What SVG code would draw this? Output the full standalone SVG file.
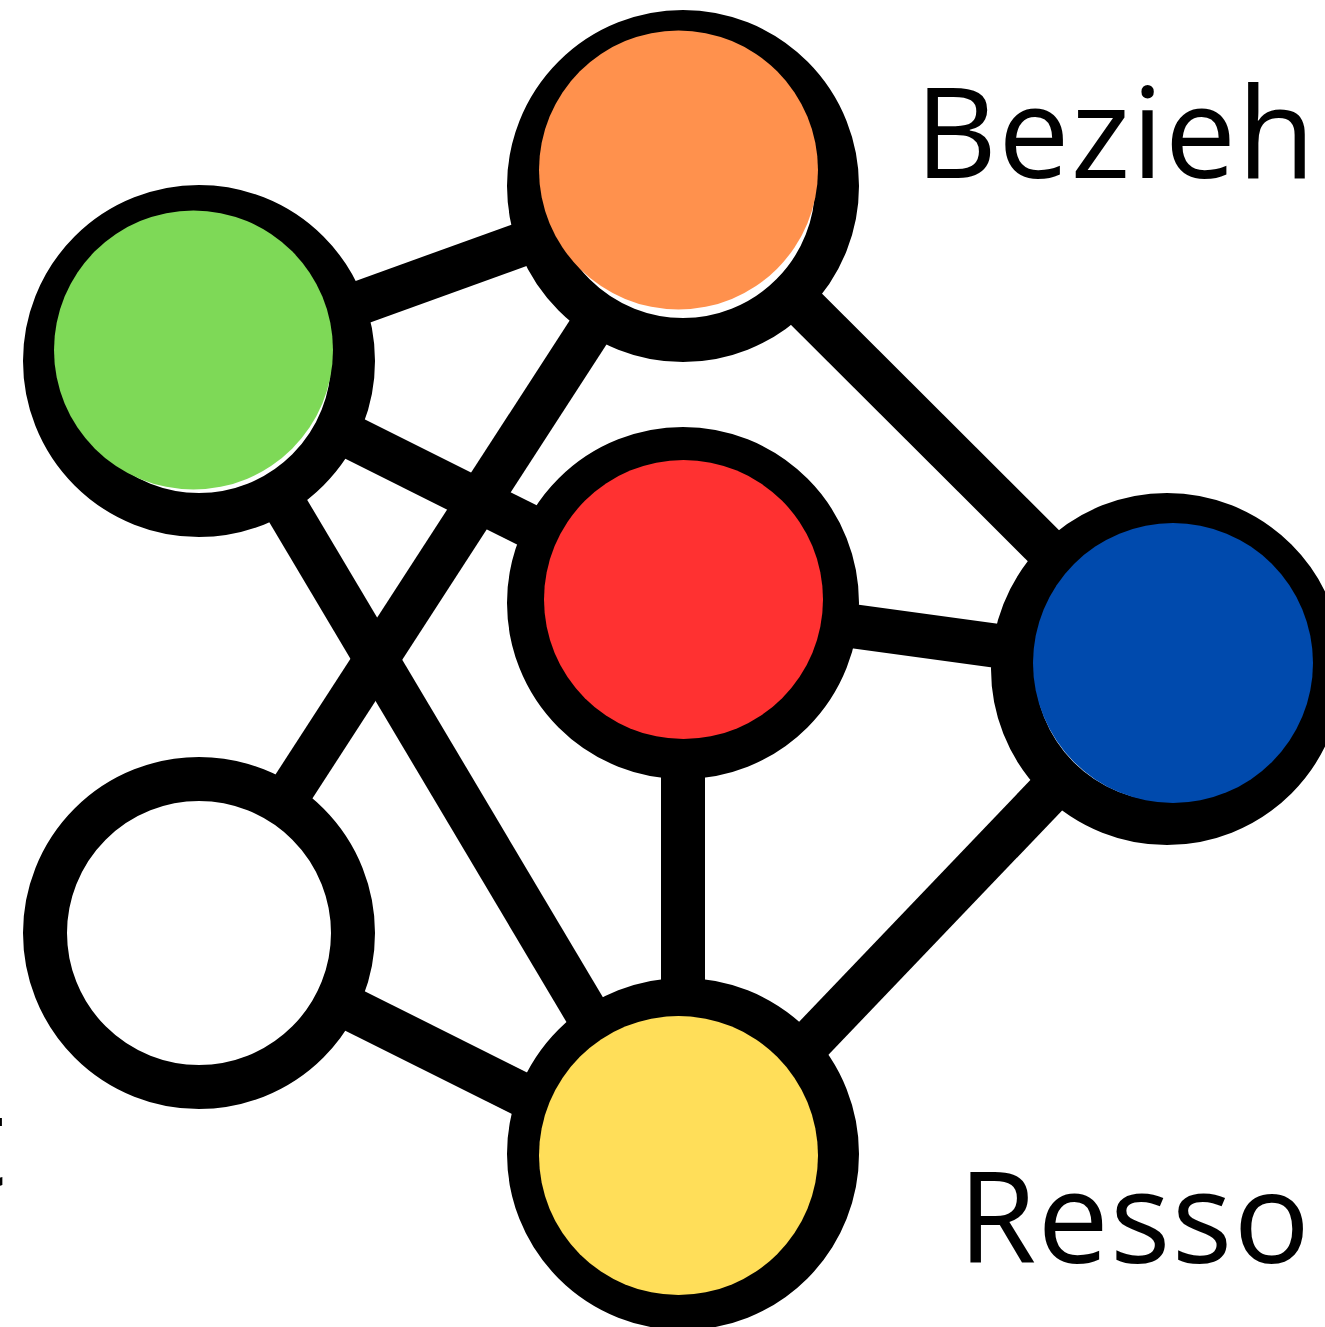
<svg xmlns="http://www.w3.org/2000/svg" width="1325" height="1327" viewBox="0 0 1325 1327">
<style>
.edge{stroke:#000;stroke-width:44;stroke-linecap:butt;fill:none}
.ring{fill:#fff;stroke:#000;stroke-width:44}
.label{font-family:"Open Sans","Noto Sans","Liberation Sans",sans-serif;font-size:127px;fill:#000;letter-spacing:1.2px}
</style>
<rect width="1325" height="1327" fill="#fff"/>
<g id="connectors">
<line class="edge" x1="199" y1="361" x2="683" y2="186"/>
<line class="edge" x1="199" y1="361" x2="683" y2="603"/>
<line class="edge" x1="199" y1="361" x2="683" y2="1175"/>
<line class="edge" x1="683" y1="186" x2="199" y2="933"/>
<line class="edge" x1="683" y1="186" x2="1167" y2="669"/>
<line class="edge" x1="683" y1="603" x2="1167" y2="669"/>
<line class="edge" x1="683" y1="603" x2="683" y2="1175"/>
<line class="edge" x1="1167" y1="669" x2="683" y2="1175"/>
<line class="edge" x1="199" y1="933" x2="683" y2="1175"/>
</g>
<g id="node-orange">
<circle class="ring" cx="683" cy="186" r="154"/>
<circle cx="678.5" cy="170" r="139.5" fill="#FF914D"/>
</g>
<g id="node-green">
<circle class="ring" cx="199" cy="361" r="154"/>
<circle cx="193.5" cy="350" r="139.5" fill="#7ED957"/>
</g>
<g id="node-red">
<circle class="ring" cx="683" cy="603" r="154"/>
<circle cx="683.5" cy="599.5" r="139.5" fill="#FF3131"/>
</g>
<g id="node-blue">
<circle class="ring" cx="1167" cy="669" r="154"/>
<circle cx="1173" cy="663" r="140" fill="#004AAD"/>
</g>
<g id="node-white">
<circle class="ring" cx="199" cy="933" r="154"/>
</g>
<g id="node-yellow">
<circle class="ring" cx="683" cy="1154" r="154"/>
<circle cx="678.5" cy="1155.5" r="139.5" fill="#FFDE59"/>
</g>
<g id="labels">
<text class="label" x="915" y="178">Bezieh</text>
<text class="label" x="958" y="1263">Resso</text>
<text class="label" x="-40" y="1186">t</text>
</g>
</svg>
